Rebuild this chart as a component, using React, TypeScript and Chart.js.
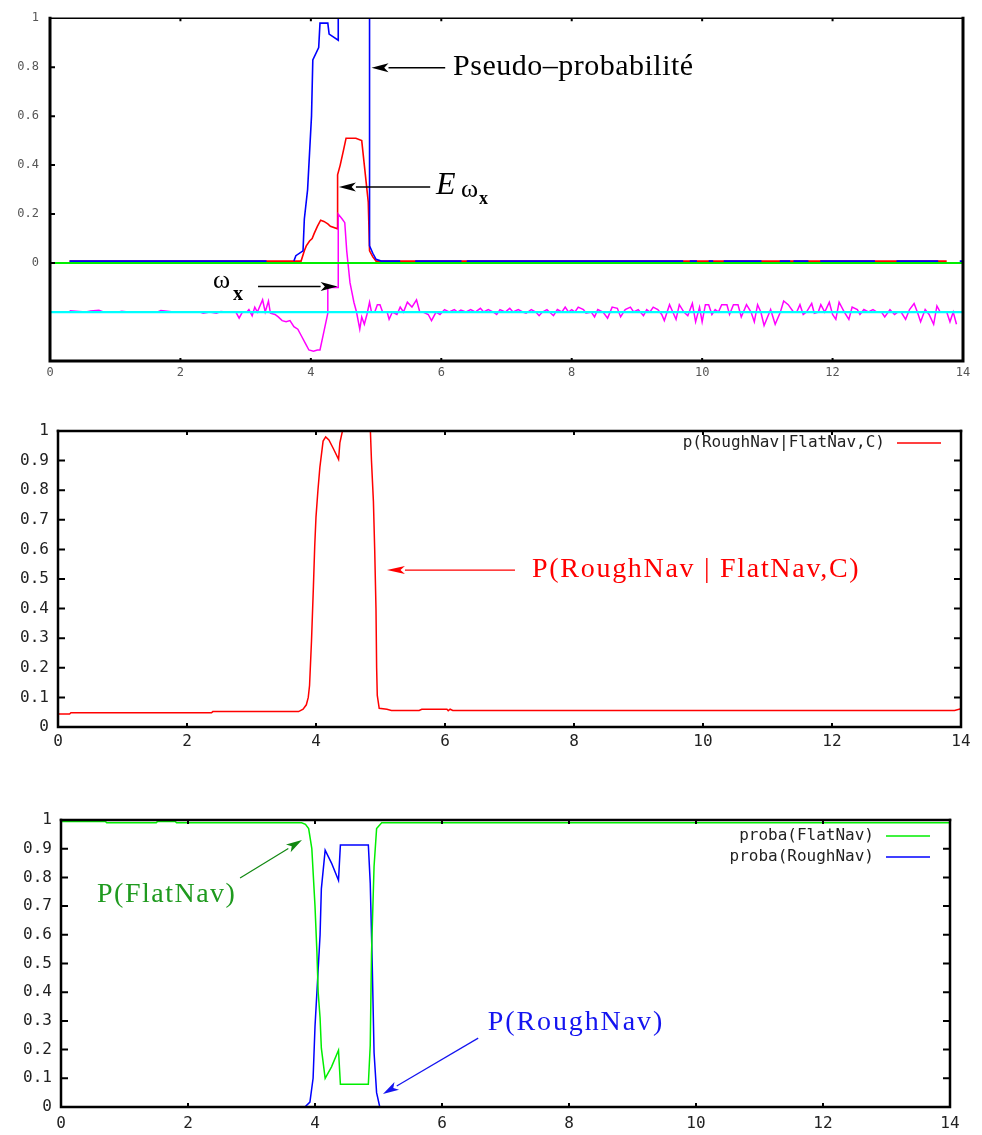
import React, { useEffect, useRef } from 'react';
import { Chart, registerables } from 'chart.js';

Chart.register(...registerables);

// ---------------- tick values ----------------
const X_TICKS = [0, 2, 4, 6, 8, 10, 12, 14];
const TOP_Y_TICKS = [0, 0.2, 0.4, 0.6, 0.8, 1];
const PROB_Y_TICKS = [0, 0.1, 0.2, 0.3, 0.4, 0.5, 0.6, 0.7, 0.8, 0.9, 1];

// ---------------- panel 1 data ----------------
// pseudo-probability (blue); null = gap where the red curve shows on the zero line
const pseudoProba: [number, number | null][] = [
  [0.3, 0.008], [3.32, 0.008], [3.33, null], [3.74, 0.008], [3.77, 0.03], [3.88, 0.05],
  [3.9, 0.18], [3.95, 0.3], [3.98, 0.45], [4.01, 0.6], [4.03, 0.83], [4.12, 0.88],
  [4.14, 0.98], [4.26, 0.98], [4.28, 0.935], [4.42, 0.91], [4.42, 1.2], [4.9, 1.2],
  [4.9, 0.07], [4.95, 0.04], [5.0, 0.015], [5.08, 0.008], [5.37, 0.008], [5.38, null],
  [5.6, 0.008], [6.31, 0.008], [6.32, null], [6.39, 0.008], [9.71, 0.008], [9.72, null],
  [9.81, 0.008], [9.92, 0.008], [9.93, null], [10.1, 0.008], [10.17, 0.008], [10.18, null],
  [10.33, 0.008], [10.91, 0.008], [10.92, null], [11.19, 0.008], [11.35, 0.008], [11.36, null],
  [11.4, 0.008], [11.63, 0.008], [11.64, null], [11.81, 0.008], [12.65, 0.008], [12.66, null],
  [12.98, 0.008], [13.62, 0.008], [13.63, null], [13.95, 0.008], [14, 0.008],
];

// E(omega_x) (red)
const eOmegaX: [number, number][] = [
  [0.3, 0.008], [3.85, 0.008], [3.9, 0.05], [3.93, 0.07], [3.98, 0.09], [4.02, 0.1],
  [4.05, 0.12], [4.1, 0.15], [4.15, 0.175], [4.2, 0.17], [4.26, 0.16], [4.3, 0.15],
  [4.41, 0.14], [4.41, 0.36], [4.45, 0.4], [4.5, 0.46], [4.54, 0.51], [4.69, 0.51],
  [4.78, 0.5], [4.88, 0.25], [4.9, 0.05], [4.95, 0.025], [5.0, 0.008], [13.75, 0.008],
];

// omega_x (magenta)
const omegaX: [number, number][] = [
  [0.3, -0.195], [0.55, -0.2], [0.62, -0.196], [0.75, -0.193], [0.82, -0.2], [1.05, -0.2],
  [1.1, -0.197], [1.2, -0.2], [1.65, -0.2], [1.7, -0.194], [1.8, -0.197], [1.9, -0.2],
  [2.3, -0.2], [2.35, -0.205], [2.45, -0.2], [2.55, -0.205], [2.62, -0.198], [2.7, -0.2],
  [2.85, -0.2], [2.9, -0.225], [2.95, -0.2], [3.02, -0.2], [3.05, -0.19], [3.1, -0.215],
  [3.14, -0.18], [3.18, -0.2], [3.26, -0.15], [3.3, -0.2], [3.35, -0.155], [3.38, -0.205],
  [3.45, -0.21], [3.5, -0.22], [3.56, -0.235], [3.62, -0.24], [3.68, -0.235], [3.74, -0.26],
  [3.8, -0.27], [3.86, -0.3], [3.92, -0.33], [3.97, -0.355], [4.04, -0.36], [4.1, -0.355],
  [4.14, -0.355], [4.2, -0.28], [4.26, -0.205], [4.26, -0.1], [4.42, -0.1], [4.42, 0.2],
  [4.48, 0.18], [4.52, 0.165], [4.55, 0.05], [4.6, -0.08], [4.63, -0.12], [4.66, -0.16],
  [4.7, -0.2], [4.75, -0.27], [4.78, -0.22], [4.82, -0.25], [4.86, -0.21], [4.9, -0.16],
  [4.93, -0.2], [4.98, -0.2], [5.02, -0.17], [5.06, -0.17], [5.1, -0.2], [5.17, -0.2],
  [5.2, -0.23], [5.25, -0.2], [5.32, -0.21], [5.37, -0.18], [5.42, -0.2], [5.48, -0.16],
  [5.55, -0.18], [5.62, -0.15], [5.67, -0.2], [5.72, -0.2], [5.8, -0.21], [5.85, -0.235],
  [5.92, -0.2], [5.98, -0.21], [6.05, -0.19], [6.12, -0.2], [6.2, -0.19], [6.25, -0.2],
  [6.3, -0.192], [6.38, -0.2], [6.45, -0.19], [6.52, -0.2], [6.6, -0.185], [6.65, -0.2],
  [6.72, -0.19], [6.8, -0.2], [6.85, -0.21], [6.9, -0.19], [6.98, -0.2], [7.05, -0.185],
  [7.1, -0.2], [7.18, -0.19], [7.25, -0.2], [7.3, -0.205], [7.38, -0.19], [7.45, -0.2],
  [7.5, -0.215], [7.55, -0.2], [7.62, -0.19], [7.68, -0.205], [7.72, -0.215], [7.78, -0.19],
  [7.85, -0.2], [7.9, -0.18], [7.95, -0.2], [8.0, -0.19], [8.05, -0.2], [8.1, -0.18],
  [8.18, -0.19], [8.22, -0.205], [8.3, -0.2], [8.35, -0.22], [8.4, -0.19], [8.48, -0.2],
  [8.55, -0.225], [8.62, -0.18], [8.7, -0.185], [8.75, -0.22], [8.82, -0.19], [8.9, -0.18],
  [8.95, -0.2], [9.02, -0.19], [9.1, -0.215], [9.15, -0.19], [9.2, -0.2], [9.25, -0.18],
  [9.32, -0.19], [9.38, -0.21], [9.42, -0.235], [9.5, -0.17], [9.55, -0.2], [9.6, -0.23],
  [9.65, -0.17], [9.72, -0.2], [9.78, -0.215], [9.85, -0.165], [9.9, -0.24], [9.96, -0.18],
  [10.0, -0.24], [10.05, -0.17], [10.1, -0.17], [10.15, -0.21], [10.2, -0.19], [10.25, -0.2],
  [10.3, -0.17], [10.38, -0.17], [10.42, -0.21], [10.48, -0.17], [10.55, -0.17], [10.6, -0.22],
  [10.68, -0.17], [10.75, -0.2], [10.8, -0.24], [10.85, -0.17], [10.9, -0.2], [10.95, -0.255],
  [11.05, -0.19], [11.12, -0.25], [11.2, -0.2], [11.25, -0.155], [11.32, -0.17], [11.4, -0.2],
  [11.45, -0.2], [11.5, -0.17], [11.55, -0.21], [11.6, -0.2], [11.68, -0.165], [11.72, -0.205],
  [11.78, -0.2], [11.82, -0.17], [11.88, -0.2], [11.95, -0.16], [12.0, -0.21], [12.05, -0.23],
  [12.1, -0.16], [12.18, -0.2], [12.25, -0.23], [12.3, -0.18], [12.38, -0.19], [12.42, -0.21],
  [12.48, -0.19], [12.55, -0.2], [12.62, -0.19], [12.68, -0.2], [12.75, -0.2], [12.8, -0.22],
  [12.88, -0.19], [12.95, -0.21], [13.0, -0.2], [13.05, -0.2], [13.12, -0.23], [13.18, -0.19],
  [13.25, -0.165], [13.3, -0.2], [13.35, -0.24], [13.42, -0.19], [13.48, -0.21], [13.55, -0.25],
  [13.6, -0.175], [13.65, -0.2], [13.75, -0.2], [13.8, -0.24], [13.85, -0.2], [13.9, -0.25],
];

const zeroLine: [number, number][] = [[0, 0], [14, 0]];
const omegaRefLine: [number, number][] = [[0, -0.2], [14, -0.2]];

// ---------------- panel 2 data ----------------
const pRoughGivenFlat: [number, number][] = [
  [0, 0.044], [0.18, 0.044], [0.2, 0.048], [2.38, 0.048], [2.4, 0.052], [3.73, 0.052],
  [3.8, 0.06], [3.85, 0.075], [3.88, 0.1], [3.9, 0.14], [3.93, 0.29], [3.96, 0.475],
  [3.98, 0.61], [4.0, 0.71], [4.03, 0.8], [4.06, 0.877], [4.11, 0.966], [4.15, 0.98],
  [4.2, 0.97], [4.27, 0.94], [4.35, 0.904], [4.37, 0.96], [4.43, 1.02], [4.84, 1.02],
  [4.86, 0.9], [4.89, 0.763], [4.91, 0.6], [4.93, 0.4], [4.94, 0.2], [4.95, 0.107],
  [4.98, 0.063], [5.1, 0.06], [5.17, 0.056], [5.6, 0.056], [5.64, 0.06], [6.03, 0.06],
  [6.05, 0.055], [6.08, 0.06], [6.12, 0.056], [13.9, 0.056], [14, 0.062],
];

// ---------------- panel 3 data ----------------
const probaFlatNav: [number, number][] = [
  [0, 0.995], [0.7, 0.995], [0.72, 0.99], [1.5, 0.99], [1.52, 0.995], [1.8, 0.995],
  [1.82, 0.99], [3.79, 0.99], [3.85, 0.985], [3.9, 0.97], [3.95, 0.9], [4.0, 0.7],
  [4.03, 0.54], [4.05, 0.4], [4.08, 0.31], [4.1, 0.205], [4.16, 0.1], [4.26, 0.14],
  [4.37, 0.198], [4.4, 0.079], [4.84, 0.079], [4.87, 0.215], [4.89, 0.535], [4.93, 0.838],
  [4.97, 0.97], [5.05, 0.99], [14, 0.99],
];

const probaRoughNav: [number, number][] = [
  [3.84, 0], [3.92, 0.017], [3.97, 0.1], [4.0, 0.28], [4.04, 0.44], [4.08, 0.6],
  [4.1, 0.76], [4.16, 0.895], [4.26, 0.85], [4.37, 0.79], [4.4, 0.913], [4.84, 0.913],
  [4.87, 0.78], [4.9, 0.51], [4.93, 0.19], [4.97, 0.05], [5.02, 0],
];

// ---------------- helpers ----------------
const pts = (arr: [number, number | null][]) => arr.map(([x, y]) => ({ x, y }));

function drawArrow(ctx: CanvasRenderingContext2D, x1: number, y1: number, x2: number, y2: number,
  color: string, width: number, headLen: number, headHalf: number) {
  const ang = Math.atan2(y2 - y1, x2 - x1);
  const bx = x2 - headLen * Math.cos(ang);
  const by = y2 - headLen * Math.sin(ang);
  ctx.strokeStyle = color;
  ctx.lineWidth = width;
  ctx.beginPath();
  ctx.moveTo(x1, y1);
  ctx.lineTo(bx, by);
  ctx.stroke();
  ctx.fillStyle = color;
  ctx.beginPath();
  ctx.moveTo(x2, y2);
  ctx.lineTo(bx + headHalf * Math.sin(ang), by - headHalf * Math.cos(ang));
  ctx.lineTo(bx + headLen * 0.25 * Math.cos(ang), by + headLen * 0.25 * Math.sin(ang));
  ctx.lineTo(bx - headHalf * Math.sin(ang), by + headHalf * Math.cos(ang));
  ctx.closePath();
  ctx.fill();
}

function gnuplotPlugin(p: any) {
  return {
    id: 'gnuplotLook',
    afterDatasetsDraw(chart: any) {
      const { ctx, chartArea: a, scales } = chart;
      const xs = scales.x;
      const ys = scales.y;
      ctx.save();
      // frame
      ctx.strokeStyle = '#000';
      ctx.lineCap = 'square';
      const fw = p.frame;
      ctx.lineWidth = fw.top;
      ctx.beginPath(); ctx.moveTo(a.left, a.top); ctx.lineTo(a.right, a.top); ctx.stroke();
      ctx.lineWidth = fw.side;
      ctx.beginPath();
      ctx.moveTo(a.left, a.top); ctx.lineTo(a.left, a.bottom); ctx.lineTo(a.right, a.bottom); ctx.lineTo(a.right, a.top);
      ctx.stroke();
      // inner ticks
      ctx.lineCap = 'butt';
      ctx.lineWidth = p.tickWidth;
      ctx.beginPath();
      for (const t of xs.ticks) {
        const px = xs.getPixelForValue(t.value);
        if (px <= a.left + 2 || px >= a.right - 2) continue;
        ctx.moveTo(px, a.bottom); ctx.lineTo(px, a.bottom - p.xTickLen);
        ctx.moveTo(px, a.top); ctx.lineTo(px, a.top + p.xTickLen);
      }
      for (const t of ys.ticks) {
        const py = ys.getPixelForValue(t.value);
        if (py <= a.top + 2 || py >= a.bottom - 2) continue;
        ctx.moveTo(a.left, py); ctx.lineTo(a.left + p.yTickLen, py);
        if (p.rightTicks) { ctx.moveTo(a.right, py); ctx.lineTo(a.right - p.yTickLen, py); }
      }
      ctx.stroke();
      // gnuplot style key
      const keyed = chart.data.datasets.filter((d: any) => d.inKey);
      keyed.forEach((d: any, i: number) => {
        const y = a.top + p.keyTop + i * 21;
        ctx.font = '16px "DejaVu Sans Mono"';
        ctx.fillStyle = '#222';
        ctx.textAlign = 'right';
        ctx.textBaseline = 'middle';
        ctx.fillText(d.label, a.right - 76, y);
        ctx.strokeStyle = d.borderColor;
        ctx.lineWidth = 1.5;
        ctx.beginPath(); ctx.moveTo(a.right - 64, y); ctx.lineTo(a.right - 20, y); ctx.stroke();
      });
      // annotations
      for (const an of p.annotations) {
        if (an.kind === 'arrow') {
          drawArrow(ctx, xs.getPixelForValue(an.x1), ys.getPixelForValue(an.y1),
            xs.getPixelForValue(an.x2), ys.getPixelForValue(an.y2), an.color, an.width, an.headLen, an.headHalf);
        } else {
          const x0 = xs.getPixelForValue(an.x);
          const y0 = ys.getPixelForValue(an.y);
          ctx.fillStyle = an.color;
          ctx.textAlign = 'left';
          ctx.textBaseline = 'alphabetic';
          for (const r of an.runs) {
            ctx.font = r.font;
            (ctx as any).letterSpacing = (r.spacing || 0) + 'px';
            ctx.fillText(r.text, x0 + r.dx, y0 + r.dy);
          }
          (ctx as any).letterSpacing = '0px';
        }
      }
      ctx.restore();
    },
  };
}

function buildConfig(p: any) {
  const H = p.height;
  return {
    type: 'line',
    data: { datasets: p.datasets },
    options: {
      animation: false,
      responsive: false,
      events: [],
      layout: { padding: { top: p.area.top, right: 982 - p.area.right, left: 0, bottom: 0 } },
      elements: { point: { radius: 0 }, line: { tension: 0 } },
      plugins: { legend: { display: false }, tooltip: { enabled: false } },
      scales: {
        x: {
          type: 'linear', min: 0, max: 14,
          afterBuildTicks: (s: any) => { s.ticks = X_TICKS.map((v) => ({ value: v })); },
          afterFit: (s: any) => { s.height = H - p.area.bottom; },
          grid: { display: false, drawTicks: false },
          border: { display: false },
          ticks: {
            padding: p.xPad, autoSkip: false, maxRotation: 0, color: p.tickColor,
            font: { family: 'DejaVu Sans Mono', size: p.tickSize },
            callback: (v: number) => String(v),
          },
        },
        y: {
          type: 'linear', min: p.yMin, max: p.yMax,
          afterBuildTicks: (s: any) => { s.ticks = p.yTicks.map((v: number) => ({ value: v })); },
          afterFit: (s: any) => { s.width = p.area.left; },
          grid: { display: false, drawTicks: false },
          border: { display: false },
          ticks: {
            padding: p.yPad, autoSkip: false, color: p.tickColor,
            font: { family: 'DejaVu Sans Mono', size: p.tickSize },
            callback: (v: number) => String(Number(v.toFixed(1))),
          },
        },
      },
    },
    plugins: [gnuplotPlugin(p)],
  };
}

const serif = '"Liberation Serif", "DejaVu Serif", serif';

const panel1 = () => buildConfig({
  height: 392,
  area: { left: 50, top: 16, right: 963, bottom: 361 },
  yMin: -0.4, yMax: 1, yTicks: TOP_Y_TICKS,
  tickSize: 12, tickColor: '#555', xPad: 5, yPad: 11,
  frame: { top: 1.5, side: 3 }, tickWidth: 2, xTickLen: 3, yTickLen: 5, rightTicks: false, keyTop: 12,
  datasets: [
    { label: 'cyan', data: pts(omegaRefLine), borderColor: '#00ffff', borderWidth: 2.2, clip: 0, order: 1 },
    { label: 'green', data: pts(zeroLine), borderColor: '#00ee00', borderWidth: 2, clip: 0, order: 2 },
    { label: 'omega', data: pts(omegaX), borderColor: '#ff00ff', borderWidth: 1.5, clip: 0, order: 3 },
    { label: 'pseudo', data: pts(pseudoProba), borderColor: '#0000ff', borderWidth: 1.6, clip: 0, order: 4, spanGaps: false },
    { label: 'E', data: pts(eOmegaX), borderColor: '#ff0000', borderWidth: 1.6, clip: 0, order: 5 },
  ],
  annotations: [
    { kind: 'text', x: 6.18, y: 0.769, color: '#000', runs: [{ text: 'Pseudo–probabilité', font: `30px ${serif}`, dx: 0, dy: 0, spacing: 0.5 }] },
    { kind: 'arrow', x1: 6.06, y1: 0.798, x2: 4.93, y2: 0.798, color: '#000', width: 1.5, headLen: 17, headHalf: 4.5 },
    {
      kind: 'text', x: 5.92, y: 0.282, color: '#000', runs: [
        { text: 'E', font: `italic 32px ${serif}`, dx: 0, dy: 0 },
        { text: 'ω', font: `26px ${serif}`, dx: 25, dy: 3 },
        { text: 'x', font: `bold 18px ${serif}`, dx: 43, dy: 10 },
      ],
    },
    { kind: 'arrow', x1: 5.83, y1: 0.311, x2: 4.43, y2: 0.311, color: '#000', width: 1.5, headLen: 17, headHalf: 4.5 },
    {
      kind: 'text', x: 2.5, y: -0.1, color: '#000', runs: [
        { text: 'ω', font: `26px ${serif}`, dx: 0, dy: 0 },
        { text: 'x', font: `bold 20px ${serif}`, dx: 20, dy: 12 },
      ],
    },
    { kind: 'arrow', x1: 3.19, y1: -0.096, x2: 4.41, y2: -0.096, color: '#000', width: 1.5, headLen: 17, headHalf: 4.5 },
  ],
});

const panel2 = () => buildConfig({
  height: 355,
  area: { left: 58, top: 31, right: 961, bottom: 327 },
  yMin: 0, yMax: 1, yTicks: PROB_Y_TICKS,
  tickSize: 16, tickColor: '#222', xPad: 5, yPad: 9,
  frame: { top: 2.5, side: 2.5 }, tickWidth: 2, xTickLen: 4, yTickLen: 7, rightTicks: true, keyTop: 12,
  datasets: [
    { label: 'p(RoughNav|FlatNav,C)', inKey: true, data: pts(pRoughGivenFlat), borderColor: '#ff0000', borderWidth: 1.5, clip: 0 },
  ],
  annotations: [
    { kind: 'arrow', x1: 7.085, y1: 0.53, x2: 5.1, y2: 0.53, color: '#ff0000', width: 1.3, headLen: 18, headHalf: 4 },
    { kind: 'text', x: 7.35, y: 0.507, color: '#ff0000', runs: [{ text: 'P(RoughNav | FlatNav,C)', font: `28px ${serif}`, dx: 0, dy: 0, spacing: 1.7 }] },
  ],
});

const panel3 = () => buildConfig({
  height: 345,
  area: { left: 61, top: 30, right: 950, bottom: 317 },
  yMin: 0, yMax: 1, yTicks: PROB_Y_TICKS,
  tickSize: 16, tickColor: '#222', xPad: 7, yPad: 9,
  frame: { top: 2.5, side: 2.5 }, tickWidth: 2, xTickLen: 4, yTickLen: 7, rightTicks: true, keyTop: 16,
  datasets: [
    { label: 'proba(FlatNav)', inKey: true, data: pts(probaFlatNav), borderColor: '#00ee00', borderWidth: 1.5, clip: 0 },
    { label: 'proba(RoughNav)', inKey: true, data: pts(probaRoughNav), borderColor: '#0000ff', borderWidth: 1.5, clip: 0 },
  ],
  annotations: [
    { kind: 'text', x: 0.567, y: 0.714, color: '#1f9a1f', runs: [{ text: 'P(FlatNav)', font: `28px ${serif}`, dx: 0, dy: 0, spacing: 1.5 }] },
    { kind: 'arrow', x1: 2.82, y1: 0.798, x2: 3.795, y2: 0.93, color: '#118811', width: 1.2, headLen: 16, headHalf: 4.5 },
    { kind: 'text', x: 6.72, y: 0.268, color: '#1414f0', runs: [{ text: 'P(RoughNav)', font: `28px ${serif}`, dx: 0, dy: 0, spacing: 1.9 }] },
    { kind: 'arrow', x1: 6.57, y1: 0.24, x2: 5.07, y2: 0.045, color: '#1414f0', width: 1.2, headLen: 16, headHalf: 4.5 },
  ],
});

function Panel({ top, height, make }: { top: number; height: number; make: () => any }) {
  const ref = useRef<HTMLCanvasElement | null>(null);
  useEffect(() => {
    if (!ref.current) return;
    const chart = new Chart(ref.current, make());
    return () => chart.destroy();
  }, []);
  return (
    <canvas
      ref={ref}
      width={982}
      height={height}
      style={{ position: 'absolute', left: 0, top, width: 982, height, display: 'block' }}
    />
  );
}

export default function App() {
  return (
    <div style={{ position: 'absolute', left: 0, top: 0, width: 982, height: 1135, background: '#fff', overflow: 'hidden' }}>
      <Panel top={0} height={392} make={panel1} />
      <Panel top={400} height={355} make={panel2} />
      <Panel top={790} height={345} make={panel3} />
    </div>
  );
}
